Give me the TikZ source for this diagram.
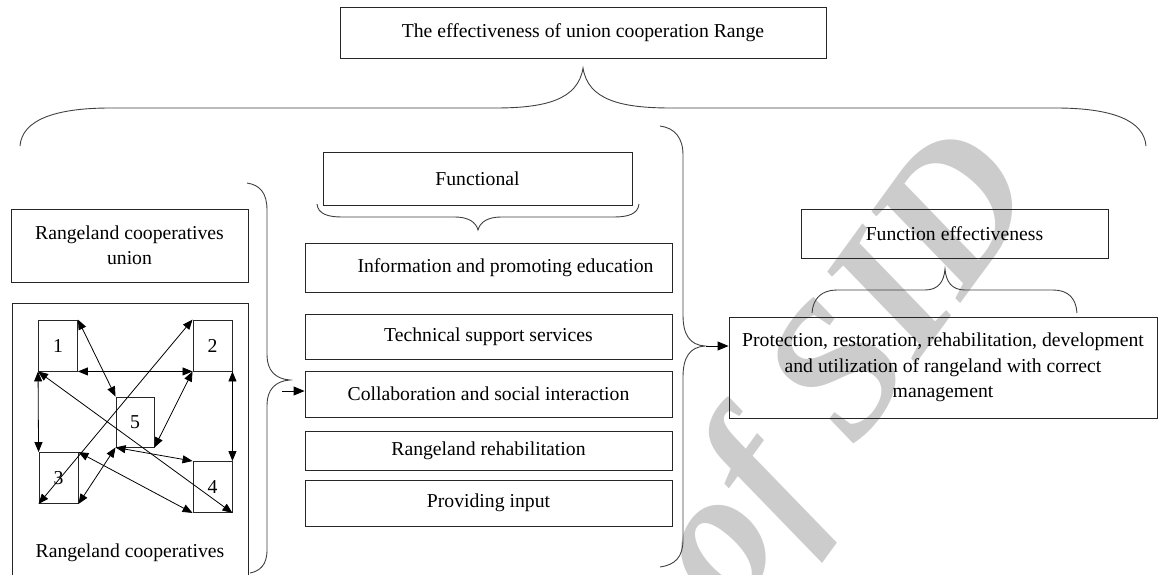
\documentclass[tikz,border=0pt]{standalone}
\usepackage{fontspec}
\setmainfont{Liberation Serif}
\usetikzlibrary{arrows.meta,positioning}

\newcommand{\boxfont}{\fontsize{19.7}{25.5}\selectfont}

\begin{document}
\begin{tikzpicture}[
  x=1pt, y=-1pt,
  ubox/.style={
    rectangle, draw=black!85, line width=0.9pt,
    inner sep=0pt, align=center, font=\boxfont
  },
  coop/.style={ubox, minimum width=39pt, minimum height=51pt},
  brace/.style={draw=black!75, line width=0.9pt},
  link/.style={{Triangle[length=10pt,width=8pt]}-{Triangle[length=10pt,width=8pt]}, line width=0.8pt},
  conn/.style={-{Triangle[length=11pt,width=9pt]}, line width=0.9pt}
]
\path[use as bounding box, clip] (0,0) rectangle (1160,574);

\node[text=black!20, font=\fontsize{192}{192}\selectfont\bfseries\itshape, rotate=54] (wmark) at (850,376) {of SID};

\node[ubox, minimum width=486pt, minimum height=51pt] (range) at (583,32.5)
  {The effectiveness of union cooperation Range};

% functional list
\node[ubox, minimum width=309pt, minimum height=53pt] (functional) at (477.5,178.5) {Functional};
\node[ubox, minimum width=367pt, minimum height=49pt] (inform)  at (488.5,267.5) {\hspace*{34pt}Information and promoting education};
\node[ubox, minimum width=367pt, minimum height=45pt] (techsup) at (488.5,336.5) {Technical support services};
\node[ubox, minimum width=367pt, minimum height=46pt] (collab)  at (488.5,394)   {Collaboration and social interaction};
\node[ubox, minimum width=367pt, minimum height=39pt] (rehab)   at (488.5,450.5) {Rangeland rehabilitation};
\node[ubox, minimum width=367pt, minimum height=46pt] (input)   at (488.5,503)   {Providing input};

% effectiveness side
\node[ubox, minimum width=307pt, minimum height=49pt] (feff) at (954.5,233.5) {Function effectiveness};
\node[ubox, minimum width=428pt, minimum height=101pt] (protect) at (943,367.5)
  {Protection, restoration, rehabilitation, development\\and utilization of rangeland with correct\\management};

% union and cooperatives
\node[ubox, minimum width=237pt, minimum height=73pt] (union) at (129.5,245.5) {Rangeland cooperatives\\union};
\node[ubox, minimum width=236pt, minimum height=290pt, anchor=north west] (coopsbox) at (12,303) {};
\node[font=\boxfont] (coopslbl) at (130,553) {Rangeland cooperatives};

\node[coop] (c1) at (58,345.5) {1};
\node[coop] (c2) at (212.5,345.5) {2};
\node[coop, minimum width=38pt, minimum height=50pt] (c5) at (135,422) {5};
\node[coop] (c3) at (58.5,478) {3};
\node[coop] (c4) at (212.5,487) {4};

\draw[link] (c1.north east) -- (c5.north west);
\draw[link] (c1.south east) -- (c2.south west);
\draw[link] (c1.south west) -- (c3.north west);
\draw[link] (c2.south east) -- (c4.north east);
\draw[link] (c2.north west) -- (c3.south west);
\draw[link] (c2.south west) -- (c5.south east);
\draw[link] (c1.south west) -- (c4.south east);
\draw[link] (c5.south west) -- (c4.north west);
\draw[link] (c3.north east) -- (c4.south west);
\draw[link] (c3.south east) -- (c5.south west);

% braces
\draw[brace] (20,146) .. controls (22,120) and (55,108) .. (110,108) -- (495,108)
  .. controls (545,108) and (578,100) .. (583,68)
  .. controls (588,100) and (621,108) .. (671,108) -- (1056,108)
  .. controls (1111,108) and (1144,120) .. (1146,146);
\draw[brace] (317,204) .. controls (318,214) and (328,217) .. (342,217) -- (455,217)
  .. controls (468,217) and (476,222) .. (478,230)
  .. controls (480,222) and (488,217) .. (501,217) -- (614,217)
  .. controls (628,217) and (638,214) .. (639,204);
\draw[brace] (812,313) .. controls (813,298) and (822,290) .. (837,290) -- (925,290)
  .. controls (938,290) and (944,282) .. (945,269)
  .. controls (946,282) and (952,290) .. (965,290) -- (1053,290)
  .. controls (1068,290) and (1076,298) .. (1077,313);
\draw[brace] (247,183) .. controls (260,185) and (267,193) .. (267,210) -- (267,355)
  .. controls (267,370) and (275,379) .. (290,380)
  .. controls (275,381) and (267,390) .. (267,405) -- (267,550)
  .. controls (267,565) and (260,571) .. (250,573);
\draw[brace] (660,126) .. controls (675,128) and (683,138) .. (683,155) -- (683,315)
  .. controls (683,335) and (690,345) .. (705,346)
  .. controls (690,347) and (683,357) .. (683,377) -- (683,540)
  .. controls (683,557) and (675,565) .. (660,567);

% arrows out of the braces
\coordinate (ltip) at (282,391);
\draw[conn] (ltip) -- (ltip -| collab.west);
\coordinate (rtip) at (706,346);
\draw[conn] (rtip) -- (rtip -| protect.west);
\end{tikzpicture}
\end{document}
